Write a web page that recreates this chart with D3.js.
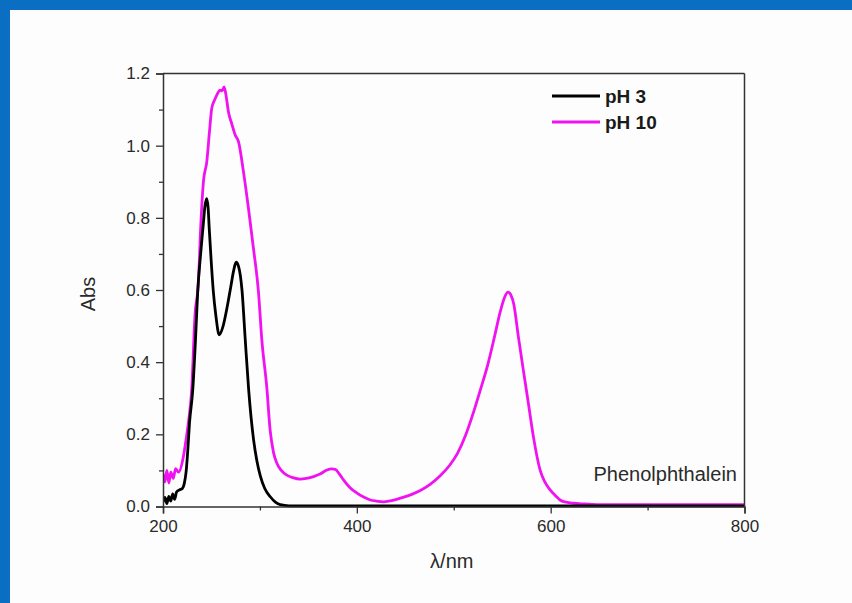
<!DOCTYPE html>
<html>
<head>
<meta charset="utf-8">
<script src="https://cdn.jsdelivr.net/npm/d3@7"></script>
<style>
  body { margin: 0; background: #fdfdfd; }
  svg { display: block; font-family: "Liberation Sans", Arial, sans-serif; }
</style>
</head>
<body>
<div id="chart"></div>
<script>
// pH 3 spectrum (nm, Abs)
var wl_ph3 = [200, 202, 204, 206, 208, 210, 212, 214, 217, 220, 222, 224, 225.6, 227.3, 230.7, 233.5, 235.9, 238.5, 241.5, 243.2, 245, 246.5, 247.7, 249.5, 251.8, 254.5, 258, 262, 266, 270, 273, 275.4, 278, 281.5, 284.9, 288.4, 293.5, 297, 300.4, 305, 310.7, 316, 321, 330, 340, 400, 500, 600, 700, 800];
var abs_ph3 = [0.012, 0.025, 0.008, 0.028, 0.015, 0.035, 0.02, 0.04, 0.046, 0.05, 0.064, 0.1, 0.157, 0.23, 0.323, 0.46, 0.6, 0.69, 0.78, 0.83, 0.853, 0.83, 0.771, 0.69, 0.6, 0.53, 0.476, 0.5, 0.55, 0.61, 0.655, 0.677, 0.665, 0.6, 0.461, 0.323, 0.184, 0.125, 0.085, 0.05, 0.027, 0.012, 0.005, 0.002, 0.002, 0.002, 0.002, 0.002, 0.002, 0.002];

// pH 10 spectrum (nm, Abs)
var wl_ph10 = [200, 202, 204, 206, 208, 210.6, 213, 216, 221, 223.5, 226.1, 229.6, 233, 236.5, 239, 241.7, 245.2, 248, 250.3, 253, 255.5, 258.9, 261, 263, 265, 267.5, 271, 274.4, 277.9, 283, 288.2, 293.3, 298.5, 302, 307.1, 310.6, 314, 317.5, 322, 327.8, 334, 341.6, 348, 355.4, 362, 369.2, 374, 377.8, 382, 386.4, 393, 400.2, 407, 414, 420, 427.8, 436, 446, 456, 466, 476, 486, 496, 504, 512, 520, 528, 535, 542, 548, 552.5, 556, 559, 562, 566.7, 571.8, 577, 582.2, 589.1, 594, 599.4, 605, 609.7, 616, 623.5, 635, 650, 700, 750, 800];
var abs_ph10 = [0.09, 0.068, 0.1, 0.065, 0.095, 0.078, 0.105, 0.095, 0.138, 0.18, 0.23, 0.323, 0.53, 0.62, 0.78, 0.9, 0.956, 1.04, 1.104, 1.125, 1.14, 1.154, 1.152, 1.163, 1.14, 1.094, 1.06, 1.03, 1.011, 0.928, 0.826, 0.716, 0.595, 0.461, 0.33, 0.21, 0.15, 0.12, 0.1, 0.087, 0.08, 0.076, 0.078, 0.083, 0.09, 0.101, 0.104, 0.103, 0.09, 0.073, 0.052, 0.037, 0.026, 0.018, 0.015, 0.013, 0.016, 0.024, 0.033, 0.045, 0.062, 0.085, 0.115, 0.148, 0.196, 0.258, 0.328, 0.392, 0.47, 0.54, 0.58, 0.594, 0.586, 0.56, 0.47, 0.378, 0.286, 0.193, 0.101, 0.068, 0.046, 0.03, 0.018, 0.012, 0.009, 0.007, 0.005, 0.005, 0.005, 0.005];

var xMajor = [200, 400, 600, 800];
var xMinor = [300, 500, 700];
var yMajor = [0, 0.2, 0.4, 0.6, 0.8, 1.0, 1.2];
var yMinor = [0.1, 0.3, 0.5, 0.7, 0.9, 1.1];

var seriesNames = ["pH 3", "pH 10"];
var seriesColors = ["#000000", "#f012f0"];

var W = 852, H = 603;
var pLeft = 163, pRight = 744.5, pTop = 73.5, pBottom = 506.5;

var svg = d3.select("#chart").append("svg")
  .attr("width", W)
  .attr("height", H);

// page frame
svg.append("rect").attr("x", 0).attr("y", 0).attr("width", W).attr("height", H).attr("fill", "#fdfdfd");
svg.append("rect").attr("x", 0).attr("y", 0).attr("width", W).attr("height", 10).attr("fill", "#0a6fc2");
svg.append("rect").attr("x", 0).attr("y", 0).attr("width", 10).attr("height", H).attr("fill", "#0a6fc2");

var x = d3.scaleLinear().domain([200, 800]).range([pLeft, pRight]);
var y = d3.scaleLinear().domain([0, 1.2]).range([pBottom, pTop]);

var line = d3.line()
  .x(function(d) { return x(d[0]); })
  .y(function(d) { return y(d[1]); })
  .curve(d3.curveMonotoneX);

svg.append("clipPath").attr("id", "plotclip")
  .append("rect").attr("x", pLeft).attr("y", pTop).attr("width", pRight - pLeft).attr("height", pBottom - pTop + 2);

var plot = svg.append("g").attr("clip-path", "url(#plotclip)");

plot.append("path")
  .datum(d3.zip(wl_ph10, abs_ph10))
  .attr("d", line)
  .attr("fill", "none")
  .attr("stroke", seriesColors[1])
  .attr("stroke-width", 2.8)
  .attr("stroke-linejoin", "round");

plot.append("path")
  .datum(d3.zip(wl_ph3, abs_ph3))
  .attr("d", line)
  .attr("fill", "none")
  .attr("stroke", seriesColors[0])
  .attr("stroke-width", 2.8)
  .attr("stroke-linejoin", "round");

// axes
var axisColor = "#333";

svg.append("g").attr("transform", "translate(0," + pBottom + ")")
  .call(d3.axisBottom(x).tickValues(xMajor).tickSize(7).tickPadding(6).tickFormat(d3.format("d")));
svg.append("g").attr("transform", "translate(0," + pBottom + ")")
  .call(d3.axisBottom(x).tickValues(xMinor).tickSize(4).tickFormat(""))
  .select(".domain").remove();

svg.append("g").attr("transform", "translate(" + pLeft + ",0)")
  .call(d3.axisLeft(y).tickValues(yMajor).tickSize(7).tickPadding(6).tickFormat(d3.format(".1f")));
svg.append("g").attr("transform", "translate(" + pLeft + ",0)")
  .call(d3.axisLeft(y).tickValues(yMinor).tickSize(4).tickFormat(""))
  .select(".domain").remove();

svg.selectAll(".domain").attr("stroke", axisColor).attr("stroke-width", 1.5);
svg.selectAll(".tick line").attr("stroke", axisColor).attr("stroke-width", 1.3);
svg.selectAll(".tick text").attr("fill", "#2a2a2a").style("font-size", "17px");

// top and right frame
svg.append("line").attr("x1", pLeft).attr("x2", pRight).attr("y1", pTop).attr("y2", pTop)
  .attr("stroke", axisColor).attr("stroke-width", 1.5);
svg.append("line").attr("x1", pRight).attr("x2", pRight).attr("y1", pTop).attr("y2", pBottom)
  .attr("stroke", axisColor).attr("stroke-width", 1.5);

// axis titles
svg.append("text")
  .attr("x", (pLeft + pRight) / 2 - 2)
  .attr("y", 568)
  .attr("text-anchor", "middle")
  .attr("fill", "#2a2a2a")
  .style("font-size", "20px")
  .text("λ/nm");

svg.append("text")
  .attr("transform", "translate(95,294) rotate(-90)")
  .attr("text-anchor", "middle")
  .attr("fill", "#2a2a2a")
  .style("font-size", "20px")
  .text("Abs");

// legend
var legend = svg.append("g").attr("transform", "translate(552,96)");
legend.selectAll("line")
  .data(seriesNames)
  .enter().append("line")
  .attr("x1", 0).attr("x2", 48)
  .attr("y1", function(d, i) { return i * 26; })
  .attr("y2", function(d, i) { return i * 26; })
  .attr("stroke", function(d, i) { return seriesColors[i]; })
  .attr("stroke-width", 3);
legend.selectAll("text")
  .data(seriesNames)
  .enter().append("text")
  .attr("x", 53)
  .attr("y", function(d, i) { return i * 26 + 7; })
  .attr("fill", "#1a1a1a")
  .style("font-size", "19px")
  .style("font-weight", "bold")
  .text(function(d) { return d; });

svg.append("text")
  .attr("x", 737)
  .attr("y", 481)
  .attr("text-anchor", "end")
  .attr("fill", "#2a2a2a")
  .style("font-size", "20px")
  .text("Phenolphthalein");
</script>
</body>
</html>
